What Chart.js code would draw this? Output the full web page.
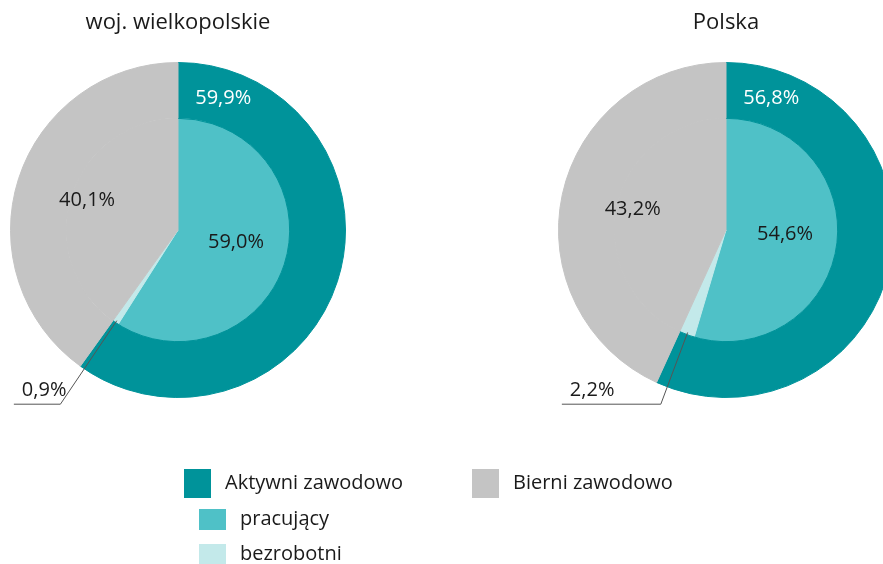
<!DOCTYPE html>
<html>
<head>
<meta charset="utf-8">
<script src="https://cdn.jsdelivr.net/npm/chart.js@4"></script>
<style>
  body { margin: 0; overflow: hidden; background: #fff; width: 883px; height: 564px; position: relative; }
  canvas { position: absolute; left: 0; top: 0; }
</style>
</head>
<body>
<canvas id="chartLeft" width="883" height="564"></canvas>
<canvas id="chartRight" width="920" height="564"></canvas>
<script>
/* --------------- Data --------------------- */
const regions = ["woj. wielkopolskie", "Polska"];
const aktywni = [59.9, 56.8];
const bierni = [40.1, 43.2];
const pracujacy = [59.0, 54.6];
const bezrobotni = [0.9, 2.2];
const seriesLabels = ["Aktywni zawodowo", "pracujący", "bezrobotni", "Bierni zawodowo"];

/* --------------- Colors --------------------- */
const teal = "#00939a";
const lightTeal = "#4fc1c7";
const paleTeal = "#c3e9ea";
const gray = "#c4c4c4";
const textColor = "#1a1a1a";
const fontFamily = "'Open Sans', 'Noto Sans', sans-serif";

const fmt = (v) => v.toFixed(1).replace(".", ",") + "%";

const pointAt = (arc, angle, r) => ({
  x: arc.x + Math.cos(angle) * r,
  y: arc.y + Math.sin(angle) * r,
});

/* --------------- Labels, title and leader line --------------------- */
const pieLabels = {
  id: "pieLabels",
  afterDraw(chart) {
    const ctx = chart.ctx;
    const idx = chart.options.plugins.pieLabels.index;
    const outer = chart.getDatasetMeta(0).data;
    const inner = chart.getDatasetMeta(1).data;
    const cx = outer[0].x;

    ctx.save();
    ctx.textAlign = "center";
    ctx.textBaseline = "middle";

    // title
    ctx.font = "22px " + fontFamily;
    ctx.fillStyle = textColor;
    ctx.fillText(regions[idx], cx, 23);

    ctx.font = "20px " + fontFamily;

    // aktywni (outer ring, near its start)
    const a0 = outer[0];
    const ringR = (a0.innerRadius + a0.outerRadius) / 2;
    let p = pointAt(a0, a0.startAngle + 0.33, ringR);
    ctx.fillStyle = "#ffffff";
    ctx.fillText(fmt(aktywni[idx]), p.x, p.y);

    // bierni
    const a1 = outer[1];
    p = pointAt(a1, (a1.startAngle + a1.endAngle) / 2, a1.outerRadius * 0.57);
    ctx.fillStyle = textColor;
    ctx.fillText(fmt(bierni[idx]), p.x, p.y);

    // pracujacy
    const i0 = inner[0];
    p = pointAt(i0, (i0.startAngle + i0.endAngle) / 2 - 0.08, i0.outerRadius * 0.53);
    ctx.fillText(fmt(pracujacy[idx]), p.x, p.y);

    // bezrobotni with leader line
    const i1 = inner[1];
    const mid = (i1.startAngle + i1.endAngle) / 2;
    const start = pointAt(i1, mid, i1.outerRadius * 0.98);
    const elbowR = (a0.outerRadius * 1.04) / Math.sin(mid);
    const elbow = pointAt(i1, mid, elbowR);
    const endX = cx - a0.outerRadius * 0.98;
    ctx.strokeStyle = "#555555";
    ctx.lineWidth = 1;
    ctx.beginPath();
    ctx.moveTo(start.x, start.y);
    ctx.lineTo(elbow.x, elbow.y);
    ctx.lineTo(endX, elbow.y);
    ctx.stroke();
    ctx.textAlign = "left";
    ctx.textBaseline = "alphabetic";
    ctx.fillText(fmt(bezrobotni[idx]), endX + 8, elbow.y - 8);
    ctx.restore();
  },
};

/* --------------- Legend (drawn once, on left chart) --------------------- */
const legendPlugin = {
  id: "customLegend",
  afterDraw(chart) {
    if (!chart.options.plugins.customLegend.show) return;
    const ctx = chart.ctx;
    const items = [
      { label: seriesLabels[0], color: teal, x: 184, y: 469, w: 27, h: 29 },
      { label: seriesLabels[1], color: lightTeal, x: 199, y: 509, w: 27, h: 21 },
      { label: seriesLabels[2], color: paleTeal, x: 199, y: 544, w: 27, h: 21 },
      { label: seriesLabels[3], color: gray, x: 472, y: 469, w: 27, h: 29 },
    ];
    ctx.save();
    ctx.font = "20px " + fontFamily;
    ctx.textBaseline = "middle";
    ctx.textAlign = "left";
    items.forEach((it) => {
      ctx.fillStyle = it.color;
      ctx.fillRect(it.x, it.y, it.w, it.h);
      ctx.fillStyle = textColor;
      ctx.fillText(it.label, it.x + it.w + 14, it.y + it.h / 2);
    });
    ctx.restore();
  },
};

const makeChart = (canvasId, idx, padding, showLegend) =>
  new Chart(document.getElementById(canvasId), {
    type: "doughnut",
    plugins: [pieLabels, legendPlugin],
    data: {
      labels: seriesLabels,
      datasets: [
        {
          data: [aktywni[idx], bierni[idx]],
          backgroundColor: [teal, gray],
          borderColor: [teal, gray],
          borderWidth: 1,
          weight: 1,
        },
        {
          data: [pracujacy[idx], bezrobotni[idx], bierni[idx]],
          backgroundColor: [lightTeal, paleTeal, gray],
          borderColor: [lightTeal, paleTeal, gray],
          borderWidth: 1,
          weight: 2,
        },
      ],
    },
    options: {
      responsive: false,
      animation: false,
      events: [],
      cutout: 0,
      layout: { padding: padding },
      plugins: {
        legend: { display: false },
        tooltip: { enabled: false },
        pieLabels: { index: idx },
        customLegend: { show: showLegend },
      },
    },
  });

makeChart("chartLeft", 0, { left: 10, top: 62, right: 537, bottom: 166 }, true);
makeChart("chartRight", 1, { left: 558, top: 62, right: 26, bottom: 166 }, false);
</script>
</body>
</html>
